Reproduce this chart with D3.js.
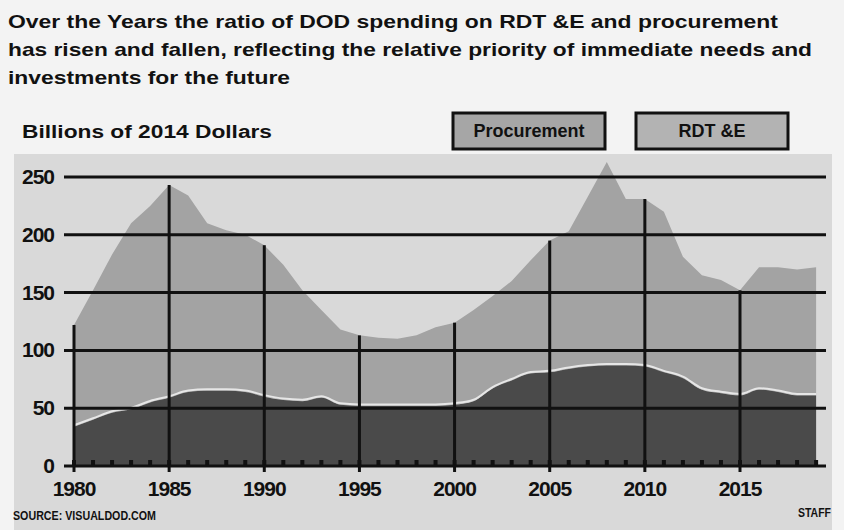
<!DOCTYPE html>
<html lang="en">
<head>
  <meta charset="UTF-8">
  <title>DOD RDT&amp;E and procurement</title>
  <style>
    body { margin: 0; background: #f3f3f3; }
    svg { display: block; }
    text { font-family: "Liberation Sans", Arial, sans-serif; font-weight: bold; fill: #111; }
  </style>
</head>
<body>
  <svg width="844" height="530"></svg>
  <script src="https://cdn.jsdelivr.net/npm/d3@7/dist/d3.min.js"></script>
  <script>
    var years = [1980, 1981, 1982, 1983, 1984, 1985, 1986, 1987, 1988, 1989,
                 1990, 1991, 1992, 1993, 1994, 1995, 1996, 1997, 1998, 1999,
                 2000, 2001, 2002, 2003, 2004, 2005, 2006, 2007, 2008, 2009,
                 2010, 2011, 2012, 2013, 2014, 2015, 2016, 2017, 2018, 2019]
    var rdte = [34, 40, 46, 49, 55, 59, 64, 65, 65, 64,
                60, 57, 56, 59, 53, 52, 52, 52, 52, 52,
                53, 56, 67, 74, 80, 81, 84, 86, 87, 87,
                86, 81, 76, 66, 63, 61, 66, 64, 61, 61]
    var procurement = [88, 112, 137, 161, 170, 184, 170, 145, 139, 136,
                       131, 117, 96, 76, 65, 61, 59, 58, 61, 68,
                       71, 79, 80, 86, 98, 114, 119, 147, 176, 144,
                       145, 139, 105, 99, 98, 91, 106, 108, 109, 111]
    var yTicks = [0, 50, 100, 150, 200, 250]
    var xTicks = [1980, 1985, 1990, 1995, 2000, 2005, 2010, 2015]
    var titleLines = [
      'Over the Years the ratio of DOD spending on RDT &E and procurement',
      'has risen and fallen, reflecting the relative priority of immediate needs and',
      'investments for the future'
    ]
    var legendItems = ['Procurement', 'RDT &E']

    var svg = d3.select('svg')

    var rows = years.map(function(y, i) {
      return { year: y, rdte: rdte[i], procurement: procurement[i] }
    })

    var x = d3.scaleLinear().domain([1980, 2015]).range([74, 740])
    var y = d3.scaleLinear().domain([0, 250]).range([466, 177])

    // chart panel
    svg.append('rect')
      .attr('x', 14).attr('y', 154)
      .attr('width', 818).attr('height', 376)
      .attr('fill', '#d9d9d9')

    // title
    var titleWidths = [770, 804, 282]
    svg.selectAll('.title')
      .data(titleLines)
      .enter()
      .append('text')
      .attr('class', 'title')
      .attr('x', 8)
      .attr('y', function(d, i) { return 28 + i * 28 })
      .attr('font-size', 19)
      .attr('textLength', function(d, i) { return titleWidths[i] })
      .attr('lengthAdjust', 'spacingAndGlyphs')
      .text(function(d) { return d })

    svg.append('text')
      .attr('x', 22).attr('y', 138)
      .attr('font-size', 18)
      .attr('textLength', 250)
      .attr('lengthAdjust', 'spacingAndGlyphs')
      .text('Billions of 2014 Dollars')

    // legend
    var legendX = [453, 636]
    var legendFill = ['#a6a6a6', '#b3b3b3']
    var leg = svg.selectAll('.legend')
      .data(legendItems)
      .enter()
      .append('g')
      .attr('class', 'legend')
      .attr('transform', function(d, i) { return 'translate(' + legendX[i] + ',113)' })
    leg.append('rect')
      .attr('width', 152).attr('height', 36)
      .attr('fill', function(d, i) { return legendFill[i] })
      .attr('stroke', '#111').attr('stroke-width', 3)
    leg.append('text')
      .attr('x', 76).attr('y', 24)
      .attr('text-anchor', 'middle')
      .attr('font-size', 18)
      .attr('font-family', '"Liberation Sans Narrow", "Liberation Sans", sans-serif')
      .text(function(d) { return d })

    // stacked areas
    var stack = d3.stack().keys(['rdte', 'procurement'])
    var series = stack(rows)

    var areaTop = d3.area()
      .x(function(d) { return x(d.data.year) })
      .y0(function(d) { return y(d[0]) })
      .y1(function(d) { return y(d[1]) })

    var areaBottom = d3.area()
      .curve(d3.curveMonotoneX)
      .x(function(d) { return x(d.data.year) })
      .y0(function(d) { return y(d[0]) })
      .y1(function(d) { return y(d[1]) })

    svg.append('path')
      .datum(series[1])
      .attr('fill', '#a3a3a3')
      .attr('d', areaTop)

    svg.append('path')
      .datum(series[0])
      .attr('fill', '#4a4a4a')
      .attr('d', areaBottom)

    // light edge along top of RDT&E
    svg.append('path')
      .datum(series[0])
      .attr('fill', 'none')
      .attr('stroke', '#e6e6e6')
      .attr('stroke-width', 2)
      .attr('d', d3.line()
        .curve(d3.curveMonotoneX)
        .x(function(d) { return x(d.data.year) })
        .y(function(d) { return y(d[1]) - 1.5 }))

    // gridlines
    svg.selectAll('.grid')
      .data(yTicks.filter(function(d) { return d > 0 }))
      .enter()
      .append('line')
      .attr('x1', 64).attr('x2', 826)
      .attr('y1', function(d) { return y(d) })
      .attr('y2', function(d) { return y(d) })
      .attr('stroke', '#111').attr('stroke-width', 3)

    // small year ticks
    svg.selectAll('.ytick-small')
      .data(years)
      .enter()
      .append('rect')
      .attr('x', function(d) { return x(d) - 2 })
      .attr('y', y(0) - 6)
      .attr('width', 4).attr('height', 6)
      .attr('fill', '#111')

    // drop lines every 5 years
    svg.selectAll('.drop')
      .data(rows.filter(function(d) { return d.year % 5 === 0 }))
      .enter()
      .append('line')
      .attr('x1', function(d) { return x(d.year) })
      .attr('x2', function(d) { return x(d.year) })
      .attr('y1', y(0) + 6)
      .attr('y2', function(d) { return y(d.rdte + d.procurement) })
      .attr('stroke', '#111').attr('stroke-width', 3)

    // x axis baseline
    svg.append('line')
      .attr('x1', 64).attr('x2', 826)
      .attr('y1', y(0)).attr('y2', y(0))
      .attr('stroke', '#111').attr('stroke-width', 3)

    // y labels
    svg.selectAll('.ylab')
      .data(yTicks)
      .enter()
      .append('text')
      .attr('x', 54)
      .attr('y', function(d) { return y(d) + 7 })
      .attr('text-anchor', 'end')
      .attr('font-size', 21)
      .attr('letter-spacing', -1)
      .text(function(d) { return d })

    // x labels
    svg.selectAll('.xlab')
      .data(xTicks)
      .enter()
      .append('text')
      .attr('x', function(d) { return x(d) })
      .attr('y', 496)
      .attr('text-anchor', 'middle')
      .attr('font-size', 21)
      .attr('letter-spacing', -1)
      .text(function(d) { return d })

    // source + credit
    svg.append('text')
      .attr('x', 13).attr('y', 520)
      .attr('font-size', 12)
      .attr('textLength', 143)
      .attr('lengthAdjust', 'spacingAndGlyphs')
      .text('SOURCE: VISUALDOD.COM')

    svg.append('text')
      .attr('x', 798).attr('y', 517)
      .attr('font-size', 12)
      .attr('textLength', 33)
      .attr('lengthAdjust', 'spacingAndGlyphs')
      .text('STAFF')
  </script>
</body>
</html>
